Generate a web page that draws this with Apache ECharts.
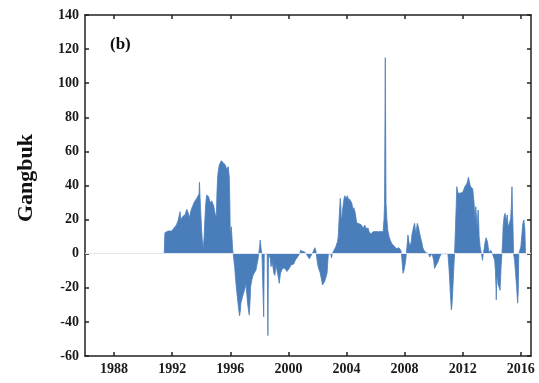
<!DOCTYPE html>
<html>
<head>
<meta charset="utf-8">
<script src="https://cdn.jsdelivr.net/npm/echarts@6/dist/echarts.min.js"></script>
<style>
  html, body { margin: 0; padding: 0; background: #fff; }
  #chart { width: 539px; height: 383px; }
</style>
</head>
<body>
<div id="chart"></div>
<script>
// x positions (decimal years) and values
const years = [
  1991.45, 1991.5, 1991.6, 1991.73, 1991.85, 1991.97, 1992.1, 1992.2, 1992.3, 1992.42,
  1992.54, 1992.6, 1992.66, 1992.75, 1992.81, 1992.9, 1993.0, 1993.1, 1993.18, 1993.26,
  1993.34, 1993.42, 1993.5, 1993.6, 1993.69, 1993.78, 1993.85, 1993.88, 1993.92, 1993.96,
  1994.02, 1994.07, 1994.14, 1994.2, 1994.24, 1994.3, 1994.37, 1994.44, 1994.51, 1994.58,
  1994.65, 1994.72, 1994.79, 1994.86, 1994.93, 1995.0, 1995.04, 1995.08, 1995.13, 1995.18,
  1995.24, 1995.31, 1995.38, 1995.45, 1995.52, 1995.59, 1995.66, 1995.75, 1995.8, 1995.86,
  1995.93, 1995.97, 1996.0, 1996.07, 1996.12, 1996.17, 1996.2,
  1996.3, 1996.39, 1996.48, 1996.57, 1996.64, 1996.7, 1996.73, 1996.79, 1996.85, 1996.91,
  1996.96, 1997.02, 1997.08, 1997.14, 1997.19, 1997.25, 1997.31, 1997.36, 1997.4, 1997.47,
  1997.54, 1997.6, 1997.65, 1997.71, 1997.77, 1997.84, 1997.9, 1997.96, 1998.02, 1998.06,
  1998.1, 1998.13, 1998.18, 1998.26, 1998.3, 1998.34, 1998.54, 1998.59, 1998.63, 1998.72,
  1998.76, 1998.8, 1998.88, 1998.94, 1999.0, 1999.07, 1999.14, 1999.2, 1999.25, 1999.31,
  1999.37, 1999.42, 1999.46, 1999.53, 1999.6, 1999.66, 1999.71, 1999.77, 1999.83, 1999.89,
  1999.95, 2000.0, 2000.06, 2000.12, 2000.18, 2000.24, 2000.3, 2000.37, 2000.43, 2000.5,
  2000.57, 2000.64, 2000.71, 2000.78, 2000.84, 2000.91, 2000.98, 2001.05, 2001.12, 2001.2,
  2001.3, 2001.39, 2001.44, 2001.48, 2001.53, 2001.57, 2001.64, 2001.7, 2001.76, 2001.82,
  2001.85, 2001.89, 2001.92, 2002.01, 2002.06, 2002.12, 2002.18, 2002.24, 2002.3, 2002.35,
  2002.42, 2002.49, 2002.55, 2002.6, 2002.66, 2002.72, 2002.75, 2002.92, 2002.97, 2003.02,
  2003.08, 2003.14, 2003.2, 2003.26, 2003.32, 2003.38, 2003.43, 2003.5, 2003.57, 2003.61,
  2003.64, 2003.69, 2003.73, 2003.78, 2003.82, 2003.87, 2003.91, 2003.96, 2004.0, 2004.05,
  2004.09, 2004.14, 2004.18, 2004.22, 2004.27, 2004.32, 2004.37, 2004.42, 2004.46, 2004.5,
  2004.55, 2004.6, 2004.64, 2004.69, 2004.73, 2004.78, 2004.83, 2004.88, 2004.92, 2004.98,
  2005.03, 2005.09, 2005.15, 2005.2, 2005.26, 2005.32, 2005.38, 2005.44, 2005.49, 2005.55,
  2005.61, 2005.66, 2005.72, 2005.78, 2005.83, 2005.89, 2005.95, 2006.0, 2006.06, 2006.12,
  2006.18, 2006.24, 2006.29, 2006.35, 2006.41, 2006.47, 2006.52, 2006.58, 2006.62, 2006.67,
  2006.72, 2006.78, 2006.84, 2006.88, 2006.93, 2006.98, 2007.02, 2007.07, 2007.12, 2007.16,
  2007.21, 2007.27, 2007.32, 2007.38, 2007.44, 2007.5, 2007.55, 2007.6, 2007.64, 2007.7,
  2007.74, 2007.78, 2007.82, 2007.89, 2007.96, 2008.02, 2008.05, 2008.1, 2008.12, 2008.19,
  2008.23, 2008.28, 2008.32, 2008.36, 2008.41, 2008.46, 2008.5, 2008.55, 2008.6, 2008.64,
  2008.69, 2008.74, 2008.78, 2008.83, 2008.87, 2008.92, 2008.97, 2009.01, 2009.06, 2009.1,
  2009.15, 2009.2, 2009.24, 2009.28, 2009.33, 2009.38, 2009.43, 2009.48, 2009.52, 2009.66,
  2009.72, 2009.79, 2009.84, 2009.88, 2009.95, 2010.0, 2010.06, 2010.12, 2010.18, 2010.24,
  2010.29, 2010.35, 2010.41, 2010.47, 2010.52, 2010.98, 2011.05, 2011.1, 2011.14, 2011.18,
  2011.22, 2011.26, 2011.3, 2011.35, 2011.4, 2011.44, 2011.52, 2011.56, 2011.59, 2011.64,
  2011.68, 2011.73, 2011.77, 2011.82, 2011.86, 2011.91, 2011.95, 2012.0, 2012.04, 2012.09,
  2012.14, 2012.19, 2012.23, 2012.28, 2012.32, 2012.36, 2012.39, 2012.43, 2012.46, 2012.5,
  2012.55, 2012.6, 2012.64, 2012.69, 2012.73, 2012.78, 2012.83, 2012.87, 2012.9, 2012.94,
  2012.97, 2013.02, 2013.06, 2013.1, 2013.13, 2013.2, 2013.29, 2013.33, 2013.36, 2013.4,
  2013.43, 2013.48, 2013.52, 2013.57, 2013.61, 2013.66, 2013.71, 2013.75, 2013.79, 2013.88,
  2013.93, 2013.98, 2014.02, 2014.05, 2014.14, 2014.2, 2014.25, 2014.29, 2014.31, 2014.34,
  2014.38, 2014.43, 2014.5, 2014.57, 2014.61, 2014.64, 2014.7, 2014.75, 2014.78, 2014.85,
  2014.92, 2014.99, 2015.06, 2015.13, 2015.22, 2015.3, 2015.35, 2015.39, 2015.43, 2015.46,
  2015.5, 2015.57, 2015.64, 2015.71, 2015.78, 2015.82, 2015.86, 2015.93, 2016.0, 2016.07,
  2016.14, 2016.21, 2016.28, 2016.32
];

const values = [
  0, 12.3, 12.5, 13.3, 13, 13.3, 14, 15.8, 17, 19.8,
  24.6, 20, 19, 22, 21.7, 23, 26, 24, 20.8, 24,
  26.6, 28, 29.9, 31, 32.5, 31.5, 35, 41.9, 33, 25.6,
  15, 8, 2.6, 10, 18, 28, 34.4, 35, 33.4, 31,
  29.6, 31, 30.5, 28, 24.6, 22, 20.8, 35, 45.2, 49,
  52, 53, 54.5, 55.5, 53.4, 53, 52, 49.5, 50, 51,
  45, 30, 11, 15.8, 16, 2, 0,
  -7.6, -17.4, -25, -32, -36.4, -33, -29, -27, -25, -24.5,
  -24, -20, -17.4, -24, -29, -33, -36, -28, -19.4, -16,
  -13.5, -12, -11.5, -12.5, -9.6, -6, -3.7, 0, 4, 8,
  5, 2, 0, 0, -37, 0, 0, -48, 0, 0,
  -3, -7.6, -4.7, -8, -11.5, -12.7, -6.6, -9, -11.5, -14,
  -17.4, -14, -11.5, -10, -8.6, -9, -7.6, -8.5, -9.6, -10.5,
  -11.5, -10, -8.6, -7.5, -6.6, -7, -7.6, -6, -4.7, -3.5,
  -2.7, -1.8, -1, 0, 2, 2.3, 1.4, 1.5, 1, 0,
  -1, 0, -3, -4, -2, -1, 0, 1, 2, 3.5,
  4.3, 2, 0, -6, -8, -9.6, -11, -13.5, -16, -18.4,
  -19, -16.4, -17, -15.5, -11.5, -4, 0, 0, -2.5, 0,
  1, 2, 3, 4, 4.9, 7, 10, 21.7, 32.5, 28,
  19.8, 22, 25.6, 29, 31.5, 34, 35, 33.5, 32.5, 34,
  33.4, 32, 30.5, 32, 33, 31, 29.6, 27, 25.6, 27,
  26.5, 24, 21.7, 19, 17.8, 17, 16.8, 17.5, 17.8, 17,
  16.8, 16, 14.9, 15.5, 16.8, 15, 13.9, 14.5, 14.9, 13,
  12, 11.5, 11, 12, 12.9, 12.5, 12, 13, 13.9, 13.5,
  12.9, 12.5, 12, 13, 13.9, 13, 12.9, 20, 29.6, 115,
  29.6, 20, 13.9, 12, 10, 9, 7.8, 7, 5.9, 5.5,
  4.9, 4.5, 3.9, 4.9, 2.9, 3.5, 2.9, 3.5, 4.3, 3,
  2, 0, -3.9, -11.5, -9.6, -7, -5.9, -2, 0, 0,
  11, 8, 5.9, 4.5, 3.9, 7, 11, 13, 14.9, 16.5,
  17.8, 14, 12, 15, 17.8, 16.5, 14.9, 13, 11, 9.5,
  7.8, 6, 3.9, 3, 2, 1.8, 1.5, 0.5, 0, 0,
  -2, -2.9, -1.5, 0, -2, -3.9, -8.6, -7.5, -6.7, -5.8,
  -4.9, -3.5, -2, -1, 0, 0, -7.8, -15, -22, -28,
  -33, -30, -24, -15, -6, 0, 0, 30, 39.3, 37,
  35.4, 36, 36.4, 35.5, 35.4, 35, 35.4, 36, 36.4, 38,
  39.3, 40, 40.3, 41, 42.2, 43.5, 44.8, 43.5, 42.2, 40.5,
  39.3, 38.8, 38.4, 38, 37.4, 30, 19.8, 24, 27.6, 22,
  15.8, 20, 25.6, 18, 10, 4, 0, -2, -3.9, -1,
  0, 3, 5.9, 8, 9.4, 8, 6.8, 4, 2, 0,
  2, 2.9, 1, 0, -1, -3.9, -10, -20, -27, -15,
  -12, -18, -19.5, -21.5, -14, -7.8, 0, 8, 15.8, 21.7,
  23.7, 18.8, 22.7, 15.8, 17.8, 20.8, 28, 39.3, 25, 15.8,
  0, -4, -11.7, -19.4, -29, -23, 0, 2, 4, 3,
  17.8, 19.8, 13.9, 0
];

const yearTicks = [1988, 1992, 1996, 2000, 2004, 2008, 2012, 2016];
const xMin = 1986, xMax = 2016.7;
const yMin = -60, yMax = 140, yStep = 20;

const seriesColor = '#4a7ebb';
const axisColor = '#222';
const labelFont = { fontFamily: 'Liberation Serif', fontWeight: 'bold', fontSize: 14, color: '#1a1a1a' };

const chart = echarts.init(document.getElementById('chart'));

const points = years.map((y, i) => [y, values[i]]);

function xAxisOf(pos, showLabels) {
  return {
    type: 'value', position: pos, min: xMin, max: xMax,
    axisLine: { show: true, onZero: false, lineStyle: { color: axisColor, width: 1.5 } },
    axisTick: { show: true, inside: true, length: 4, customValues: yearTicks, lineStyle: { color: axisColor, width: 1.5 } },
    axisLabel: showLabels
      ? Object.assign({ customValues: yearTicks, margin: 6, formatter: v => String(v) }, labelFont)
      : { show: false },
    splitLine: { show: false }
  };
}

function yAxisOf(pos, showLabels) {
  return {
    type: 'value', position: pos, min: yMin, max: yMax, interval: yStep,
    axisLine: { show: true, onZero: false, lineStyle: { color: axisColor, width: 1.5 } },
    axisTick: { show: true, inside: true, length: 4, lineStyle: { color: axisColor, width: 1.5 } },
    axisLabel: showLabels ? Object.assign({ margin: 6 }, labelFont) : { show: false },
    splitLine: { show: false }
  };
}

chart.setOption({
  animation: false,
  backgroundColor: '#fff',
  grid: { left: 85, right: 8, top: 15, bottom: 27 },
  xAxis: [xAxisOf('bottom', true), xAxisOf('top', false)],
  yAxis: [yAxisOf('left', true), yAxisOf('right', false)],
  graphic: [
    {
      type: 'text', x: 26, y: 178, rotation: Math.PI / 2,
      style: { text: 'Gangbuk', font: 'bold 22px "Liberation Serif"', fill: '#111', textAlign: 'center', textVerticalAlign: 'middle' }
    },
    {
      type: 'text', x: 110, y: 45,
      style: { text: '(b)', font: 'bold 17px "Liberation Serif"', fill: '#111', textAlign: 'left', textVerticalAlign: 'middle' }
    }
  ],
  series: [{
    type: 'line',
    xAxisIndex: 0, yAxisIndex: 0,
    data: points,
    symbol: 'none',
    lineStyle: { color: seriesColor, width: 0.8 },
    areaStyle: { color: seriesColor, opacity: 1, origin: 'auto' },
    markLine: {
      silent: true, symbol: 'none', label: { show: false },
      lineStyle: { color: '#e2e7ef', width: 1, type: 'solid' },
      data: [{ yAxis: 0 }]
    }
  }]
});
</script>
</body>
</html>
